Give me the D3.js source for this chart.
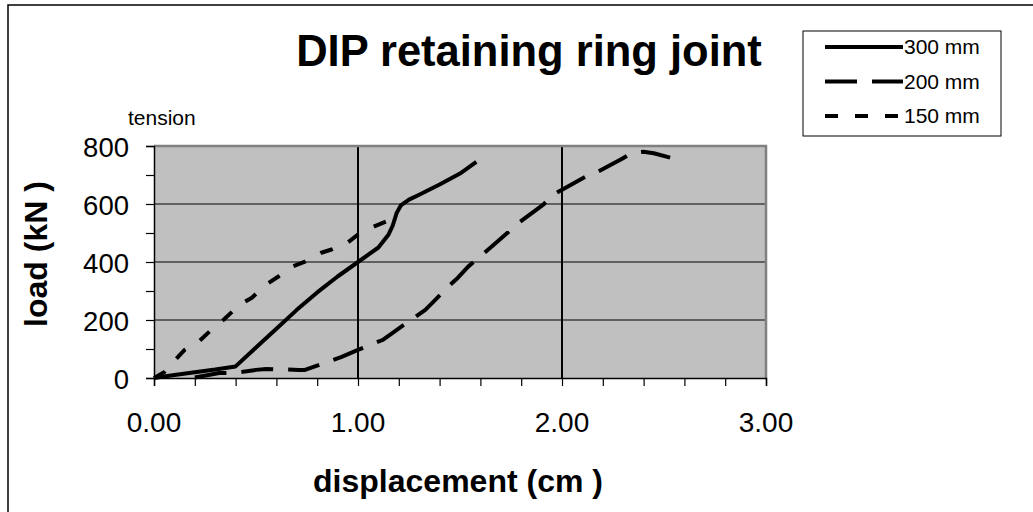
<!DOCTYPE html>
<html>
<head>
<meta charset="UTF-8">
<title>DIP retaining ring joint</title>
<script src="https://d3js.org/d3.v7.min.js"></script>
<style>
  html, body { margin: 0; padding: 0; background: #fff; }
  svg { display: block; font-family: Arial, "Liberation Sans", sans-serif; }
</style>
</head>
<body>
<div id="chart"></div>
<script>
// series data: displacement (cm), load (kN)
var seriesNames = ["300 mm", "200 mm", "150 mm"];

var x300 = [0, 0.1, 0.2, 0.3, 0.4, 0.5, 0.6, 0.7, 0.8, 0.9, 1.0, 1.1, 1.15, 1.17, 1.19, 1.21, 1.25, 1.3, 1.4, 1.5, 1.58];
var y300 = [0, 10, 20, 29, 40, 105, 170, 235, 295, 350, 400, 450, 495, 525, 570, 595, 615, 632, 667, 705, 745];

var x200 = [0.2, 0.32, 0.39, 0.5, 0.55, 0.71, 0.74, 0.92, 1.0, 1.12, 1.17, 1.33, 1.38, 1.45, 1.49, 1.54, 1.65, 1.74, 1.79, 1.91, 1.96, 2.04, 2.12, 2.17, 2.29, 2.34, 2.4, 2.45, 2.53];
var y200 = [2, 17, 17, 28, 31, 28, 28, 73, 97, 131, 156, 235, 270, 320, 346, 384, 450, 505, 536, 599, 633, 665, 696, 709, 754, 775, 780, 775, 760];

var x150 = [0, 0.05, 0.09, 0.15, 0.22, 0.29, 0.34, 0.42, 0.48, 0.55, 0.61, 0.68, 0.74, 0.82, 0.87, 0.95, 1.0, 1.08, 1.14, 1.18, 1.21];
var y150 = [0, 20, 52, 97, 126, 172, 200, 253, 277, 322, 350, 385, 401, 432, 443, 467, 495, 523, 540, 545, 535];

var xTicks = [0, 1, 2, 3];
var yTicks = [0, 200, 400, 600, 800];

var width = 1033, height = 512;
var plot = { left: 154, right: 766, top: 146, bottom: 378 };
var dashes = ["none", "32,15", "13,17"];

var svg = d3.select("#chart").append("svg")
  .attr("width", width)
  .attr("height", height);

// outer chart frame (right/bottom edges fall outside the window)
svg.append("rect")
  .attr("x", 8).attr("y", 5)
  .attr("width", width + 20).attr("height", height + 20)
  .attr("fill", "#fff").attr("stroke", "#000").attr("stroke-width", 1.5);

var x = d3.scaleLinear().domain([0, 3]).range([plot.left, plot.right]);
var y = d3.scaleLinear().domain([0, 800]).range([plot.bottom, plot.top]);

// plot area
svg.append("rect")
  .attr("x", plot.left).attr("y", plot.top)
  .attr("width", plot.right - plot.left).attr("height", plot.bottom - plot.top)
  .attr("fill", "#c0c0c0");

// horizontal gridlines
svg.append("g")
  .selectAll("line")
  .data(yTicks.filter(function(d) { return d > 0 && d < 800; }))
  .enter().append("line")
  .attr("x1", plot.left).attr("x2", plot.right)
  .attr("y1", function(d) { return y(d); }).attr("y2", function(d) { return y(d); })
  .attr("stroke", "#000").attr("stroke-width", 1);

// vertical gridlines
svg.append("g")
  .selectAll("line")
  .data(xTicks.filter(function(d) { return d > 0 && d < 3; }))
  .enter().append("line")
  .attr("y1", plot.top).attr("y2", plot.bottom)
  .attr("x1", function(d) { return x(d); }).attr("x2", function(d) { return x(d); })
  .attr("stroke", "#000").attr("stroke-width", 2);

// grey border top and right
svg.append("path")
  .attr("d", "M" + plot.left + "," + plot.top + "H" + plot.right + "V" + plot.bottom)
  .attr("fill", "none").attr("stroke", "#808080").attr("stroke-width", 2.5);

// axes
var xAxis = d3.axisBottom(x)
  .tickValues(d3.range(0, 3.001, 0.2))
  .tickSize(8)
  .tickFormat("");
var yAxis = d3.axisLeft(y)
  .tickValues(d3.range(0, 801, 100))
  .tickSize(8)
  .tickFormat("");

svg.append("g")
  .attr("transform", "translate(0," + plot.bottom + ")")
  .call(xAxis)
  .call(function(g) {
    g.select(".domain").attr("stroke-width", 1.5);
    g.selectAll(".tick line").attr("stroke-width", 1.2);
  });

svg.append("g")
  .attr("transform", "translate(" + plot.left + ",0)")
  .call(yAxis)
  .call(function(g) {
    g.select(".domain").attr("stroke-width", 1.5);
    g.selectAll(".tick line").attr("stroke-width", 1.2);
  });

// tick labels
svg.append("g")
  .selectAll("text")
  .data(xTicks)
  .enter().append("text")
  .attr("x", function(d) { return x(d); })
  .attr("y", 432)
  .attr("text-anchor", "middle")
  .attr("font-size", 28)
  .text(function(d) { return d3.format(".2f")(d); });

svg.append("g")
  .selectAll("text")
  .data(yTicks)
  .enter().append("text")
  .attr("x", 129)
  .attr("y", function(d) { return y(d) + 1; })
  .attr("dy", "0.35em")
  .attr("text-anchor", "end")
  .attr("font-size", 27.5)
  .text(function(d) { return d; });

// series
var series = [
  { name: seriesNames[0], xs: x300, ys: y300, dash: dashes[0] },
  { name: seriesNames[1], xs: x200, ys: y200, dash: dashes[1] },
  { name: seriesNames[2], xs: x150, ys: y150, dash: dashes[2] }
];

var line = d3.line()
  .x(function(d) { return x(d[0]); })
  .y(function(d) { return y(d[1]); });

svg.append("g")
  .selectAll("path")
  .data(series)
  .enter().append("path")
  .attr("d", function(s) { return line(d3.zip(s.xs, s.ys)); })
  .attr("fill", "none")
  .attr("stroke", "#000")
  .attr("stroke-width", 4)
  .attr("stroke-linejoin", "round")
  .attr("stroke-dasharray", function(s) { return s.dash; });

// titles
svg.append("text")
  .attr("x", 529).attr("y", 66)
  .attr("text-anchor", "middle")
  .attr("font-size", 43.5)
  .attr("font-weight", "bold")
  .text("DIP retaining ring joint");

svg.append("text")
  .attr("x", 128).attr("y", 125)
  .attr("font-size", 21)
  .text("tension");

svg.append("text")
  .attr("x", 458).attr("y", 492)
  .attr("text-anchor", "middle")
  .attr("font-size", 32)
  .attr("font-weight", "bold")
  .text("displacement (cm )");

svg.append("text")
  .attr("transform", "translate(47,254) rotate(-90)")
  .attr("text-anchor", "middle")
  .attr("font-size", 32)
  .attr("font-weight", "bold")
  .text("load (kN )");

// legend
var legend = svg.append("g");
legend.append("rect")
  .attr("x", 803).attr("y", 31)
  .attr("width", 198).attr("height", 105)
  .attr("fill", "#fff").attr("stroke", "#000").attr("stroke-width", 1);

var items = legend.selectAll("g.item")
  .data(series)
  .enter().append("g")
  .attr("class", "item")
  .attr("transform", function(d, i) { return "translate(0," + (47 + i * 34.5) + ")"; });

items.append("line")
  .attr("x1", 825).attr("x2", 903)
  .attr("stroke", "#000").attr("stroke-width", 4)
  .attr("stroke-dasharray", function(s) { return s.dash; });

items.append("text")
  .attr("x", 904)
  .attr("dy", "0.35em")
  .attr("font-size", 21)
  .text(function(s) { return s.name; });
</script>
</body>
</html>
